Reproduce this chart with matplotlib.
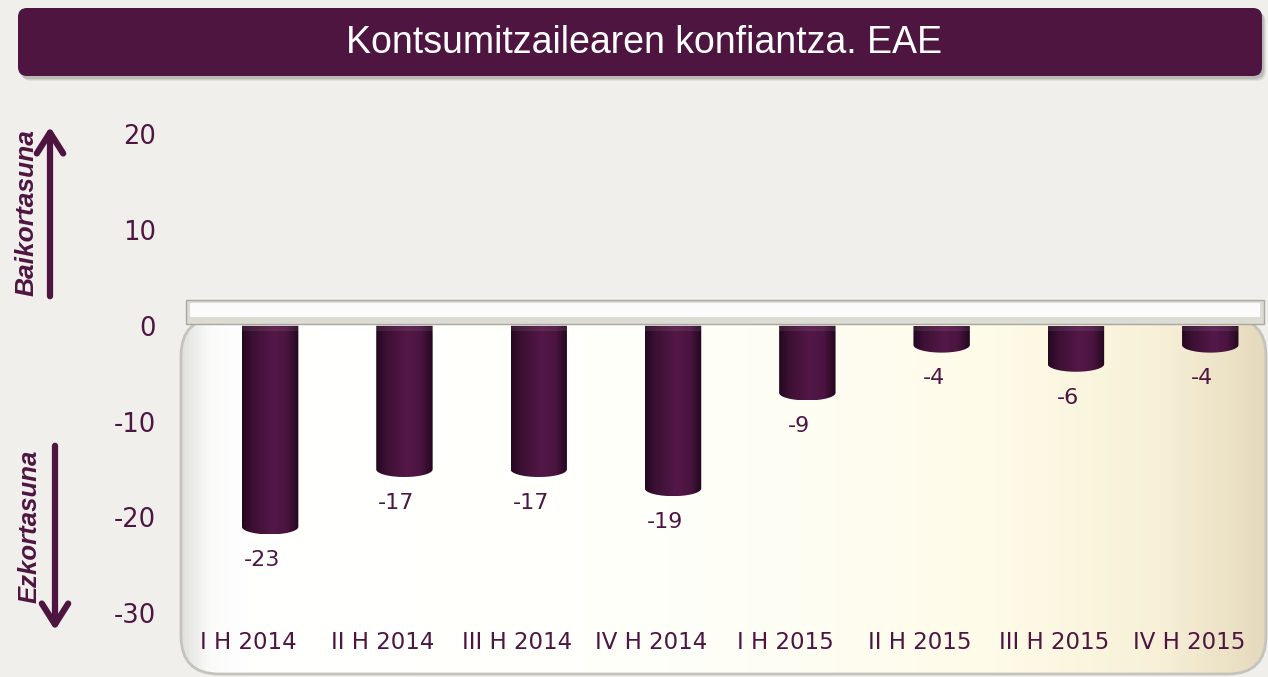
import matplotlib

matplotlib.use("Agg")
import matplotlib.pyplot as plt
import numpy as np
from matplotlib.colors import LinearSegmentedColormap
from matplotlib.patches import FancyBboxPatch, PathPatch, Rectangle
from matplotlib.path import Path

# data
categories = ["I H 2014", "II H 2014", "III H 2014", "IV H 2014",
              "I H 2015", "II H 2015", "III H 2015", "IV H 2015"]
values = [-23, -17, -17, -19, -9, -4, -6, -4]
yticks = [-30, -20, -10, 0, 10, 20]

title = "Kontsumitzailearen konfiantza. EAE"
up_label = "Baikortasuna"
down_label = "Ezkortasuna"

PURPLE = "#4e1541"
BG = "#f0efeb"
W, H = 1268, 677

fig = plt.figure(figsize=(W / 100, H / 100), dpi=100, facecolor=BG)

# decoration layer in pixel coords
bg = fig.add_axes([0, 0, 1, 1], zorder=0)
bg.set_xlim(0, W)
bg.set_ylim(H, 0)
bg.axis("off")

# title banner with soft shadow
for k, a in enumerate([0.10, 0.08, 0.06]):
    bg.add_patch(FancyBboxPatch((18 + 2 + k, 8 + 3 + k), 1244, 68,
                                boxstyle="round,pad=0,rounding_size=9",
                                fc="#000000", ec="none", alpha=a))
bg.add_patch(FancyBboxPatch((18, 8), 1244, 68, boxstyle="round,pad=0,rounding_size=9",
                            fc=PURPLE, ec="none"))
bg.text(644, 43, title, color="white", ha="center", va="center", fontsize=27,
        family=["Liberation Sans Narrow", "Liberation Sans", "DejaVu Sans"])

# panel with horizontal white->cream gradient
panel = FancyBboxPatch((181, 318), 1085, 356, boxstyle="round,pad=0,rounding_size=38",
                       fc="none", ec="#c4c3bc", lw=2, zorder=2)
bg.add_patch(panel)
pcmap = LinearSegmentedColormap.from_list(
    "panel", [(0, "#e2e2de"), (0.025, "#fbfbfa"), (0.06, "#ffffff"), (0.45, "#fffffa"),
              (0.75, "#fefbe8"), (0.9, "#f8f1d8"), (1, "#e6dabd")])
img = bg.imshow(np.linspace(0, 1, 256)[None, :], cmap=pcmap, aspect="auto",
                extent=(181, 1266, 674, 318), zorder=1)
img.set_clip_path(panel)

# zero plank
bg.add_patch(Rectangle((186, 300), 1078, 24, fc="#dcdbd4", ec="#a9a8a0", lw=1, zorder=3))
bg.add_patch(Rectangle((190, 303), 1070, 14, fc="#fbfbf9", ec="none", zorder=3))

# left arrows and texts
bg.annotate("", xy=(50, 124), xytext=(50, 299),
            arrowprops=dict(arrowstyle="->,head_length=0.6,head_width=0.38",
                            color=PURPLE, lw=4.5, mutation_scale=25))
bg.annotate("", xy=(55, 633), xytext=(55, 443),
            arrowprops=dict(arrowstyle="->,head_length=0.6,head_width=0.38",
                            color=PURPLE, lw=4.5, mutation_scale=25))
bg.text(27, 213, up_label, rotation=90, ha="center", va="center", color=PURPLE,
        fontsize=19, fontweight="bold", fontstyle="italic", family="Liberation Sans")
bg.text(30, 526, down_label, rotation=90, ha="center", va="center", color=PURPLE,
        fontsize=18.5, fontweight="bold", fontstyle="italic", family="Liberation Sans")

# main chart axes
ax = fig.add_axes([160 / W, 0, (W - 160) / W, 577 / H], zorder=1)
ax.patch.set_alpha(0)
ax.set_xlim(-0.82, 7.43)
ax.set_ylim(-36.7, 23.6)
for s in ax.spines.values():
    s.set_visible(False)
ax.set_xticks([])
ax.set_yticks(yticks)
ax.set_yticklabels([str(t) for t in yticks])
ax.tick_params(axis="y", length=0, pad=3, labelsize=18.5, labelcolor=PURPLE)

bar_w = 0.42
depth = 2.0      # perspective shift of bar ends
cap_h = 0.8
bcmap = LinearSegmentedColormap.from_list(
    "bar", [(0, "#240820"), (0.18, "#3c1034"), (0.55, "#541848"),
            (0.8, "#4a1440"), (1, "#22071d")])

x = np.arange(len(categories))
for xi, v in zip(x, values):
    x0, x1 = xi - bar_w / 2, xi + bar_w / 2
    yb = v + depth
    # rectangle + half-ellipse bottom
    t = np.linspace(np.pi, 2 * np.pi, 40)
    ex = xi + bar_w / 2 * np.cos(t)[::-1]
    ey = yb + cap_h * np.sin(t)[::-1]
    verts = [(x0, 0), (x1, 0), (x1, yb)] + list(zip(ex, ey))[1:] + [(x0, 0)]
    codes = [Path.MOVETO] + [Path.LINETO] * (len(verts) - 2) + [Path.CLOSEPOLY]
    clip = PathPatch(Path(verts, codes), fc="none", ec="none", transform=ax.transData)
    ax.add_patch(clip)
    im = ax.imshow(np.linspace(0, 1, 128)[None, :], cmap=bcmap, aspect="auto",
                   extent=(x0, x1, yb - cap_h, 0), zorder=3)
    im.set_clip_path(clip)
    # subtle fade at the top of each cylinder
    ax.add_patch(Rectangle((x0, -0.5), bar_w, 0.5, fc="white", ec="none",
                           alpha=0.08, zorder=3.5))
    ax.text(xi - 0.06, v - 1.5, str(v), ha="center", va="center",
            fontsize=16, color=PURPLE, zorder=4)

for xi, c in zip(x, categories):
    ax.text(xi - 0.16, -33.1, c, ha="center", va="center", fontsize=16.5,
            color=PURPLE, zorder=4)

fig.savefig("out.png", dpi=100, facecolor=BG)
